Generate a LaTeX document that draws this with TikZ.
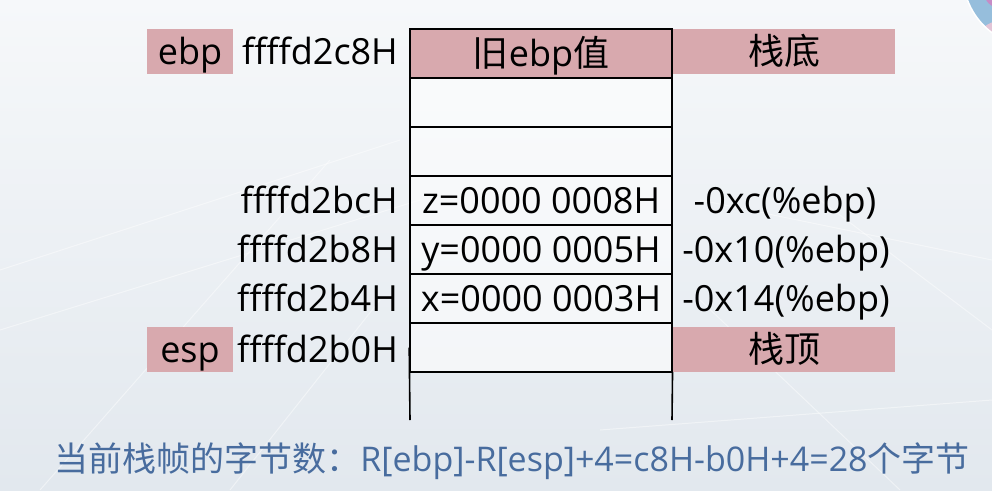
\documentclass[tikz,border=0pt]{standalone}
\usepackage{fontspec}
\setmainfont{Open Sans}
\newfontfamily\cjk{Noto Sans CJK SC}
\definecolor{pinkc}{RGB}{216,169,174}
\definecolor{bgA}{RGB}{246,248,250}
\definecolor{bgB}{RGB}{226,232,238}
\definecolor{bluet}{RGB}{72,108,158}
\definecolor{avblue}{RGB}{150,190,220}
\definecolor{avpink}{RGB}{226,196,214}
\tikzset{
  txt/.style={font=\fontsize{36}{40}\selectfont, inner sep=0pt, text height=33pt, text depth=7pt},
  cell/.style={draw=black, line width=1.6pt, fill=white, fill opacity=0.55, text opacity=1,
    minimum width=262pt, minimum height=49pt, inner sep=0pt, text height=33pt, text depth=7pt,
    font=\fontsize{36}{40}\selectfont},
  pinkbox/.style={fill=pinkc, inner sep=0pt, text height=33pt, text depth=7pt,
    minimum height=45pt, font=\fontsize{36}{40}\selectfont},
  addr/.style={txt, anchor=east},
  offs/.style={txt},
  vline/.style={draw=black, line width=1.6pt},
  gridl/.style={draw=white, line width=1pt, opacity=0.45}
}
\begin{document}
\begin{tikzpicture}[x=1pt,y=-1pt]
\useasboundingbox (0,0) rectangle (992,490);
% background
\shade[top color=bgA, bottom color=bgB] (0,0) rectangle (992,490);
\begin{scope}
\clip (0,0) rectangle (992,490);
\draw[gridl] (0,270) -- (400,140);
\draw[gridl] (0,330) -- (420,200);
\draw[gridl] (40,490) -- (330,160);
\draw[gridl] (230,490) -- (380,300);
\draw[gridl] (700,200) -- (992,260);
\draw[gridl] (700,300) -- (900,490);
\draw[gridl] (820,200) -- (992,330);
\draw[gridl] (600,430) -- (992,400);
% avatar fragment
\begin{scope}
\clip (1035,-25) circle (72pt);
\fill[avblue] (1035,-25) circle (72pt);
\fill[avpink] (1000,45) circle (24pt);
\fill[violet!45] (1000,-8) circle (16pt);
\end{scope}
\draw[white, line width=1.5pt] (1035,-25) circle (72pt);
\end{scope}
% stack cells
\node[cell, fill=pinkc, fill opacity=1] (c1) at (541,53.5) {{\cjk 旧}ebp{\cjk 值}};
\node[cell] (c2) at (541,102.5) {};
\node[cell] (c3) at (541,151.5) {};
\node[cell] (c4) at (541,200.5) {z=0000 0008H};
\node[cell] (c5) at (541,249.5) {y=0000 0005H};
\node[cell] (c6) at (541,298.5) {x=0000 0003H};
\node[cell] (c7) at (541,347.5) {};
\coordinate (bl) at (410,420);
\coordinate (br) at (672,420);
\draw[vline] (c7.west) -- (bl);
\draw[vline] (c7.east) -- (br);
% left labels
\node[pinkbox, minimum width=86pt] (ebp) at (190,51.5) {ebp};
\node[pinkbox, minimum width=86pt] (esp) at (190,349.5) {esp};
\node[addr] (a1) at (398,51.5) {ffffd2c8H};
\node[addr] (a4) at (398,200.5) {ffffd2bcH};
\node[addr] (a5) at (398,249.5) {ffffd2b8H};
\node[addr] (a6) at (398,298.5) {ffffd2b4H};
\node[addr] (a7) at (398,349.5) {ffffd2b0H};
% right labels
\node[pinkbox, minimum width=222pt] (bottom) at (784,51.5) {\cjk 栈底};
\node[pinkbox, minimum width=222pt] (top) at (784,349.5) {\cjk 栈顶};
\node[offs] (o4) at (785,200.5) {-0xc(\%ebp)};
\node[offs] (o5) at (786,249.5) {-0x10(\%ebp)};
\node[offs] (o6) at (786,298.5) {-0x14(\%ebp)};
% bottom formula
\node[txt, text=bluet, font=\fontsize{34}{38}\selectfont] (formula) at (512,458)
  {{\cjk 当前栈帧的字节数：}R[ebp]-R[esp]+4=c8H-b0H+4=28{\cjk 个字节}};
\end{tikzpicture}
\end{document}
